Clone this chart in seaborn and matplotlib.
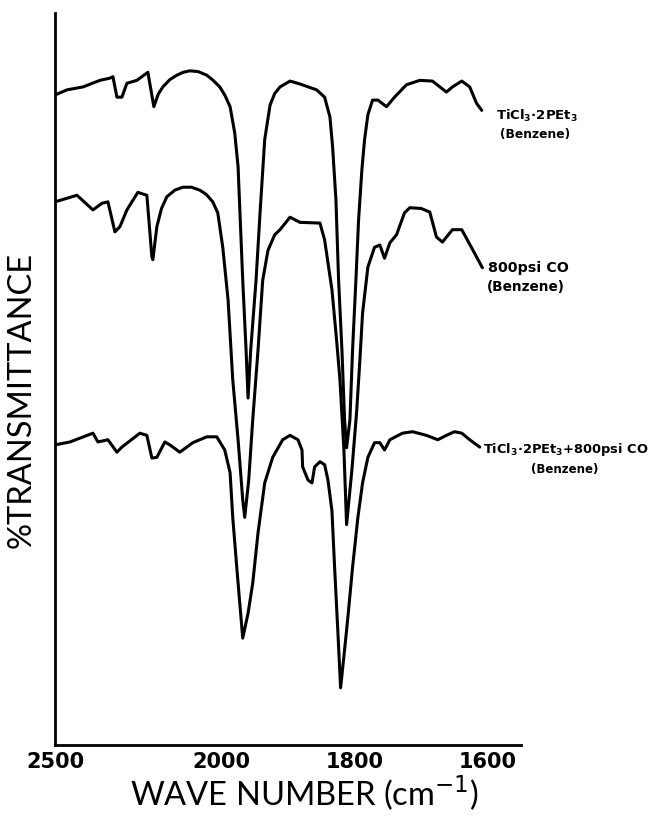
import numpy as np
import pandas as pd
import matplotlib
matplotlib.use("Agg")
import matplotlib.pyplot as plt
import seaborn as sns

# Espectros IR (numero de onda em cm-1, transmitancia relativa)
numero_onda_1 = [2500, 2464, 2416, 2365, 2335, 2326, 2314, 2299, 2284, 2254,
                 2221, 2203, 2190, 2176, 2155, 2134, 2115, 2095, 2070, 2044,
                 2025, 2005, 1995, 1987, 1980, 1975, 1968, 1963, 1960, 1956,
                 1948, 1942, 1935, 1927, 1920, 1912, 1897, 1882, 1857, 1845,
                 1837, 1833, 1828, 1824, 1819, 1815, 1812, 1807, 1803, 1798,
                 1794, 1789, 1785, 1780, 1773, 1765, 1752, 1740, 1722, 1702,
                 1683, 1662, 1653, 1639, 1627, 1617, 1609]
transm_1 = [88.8, 89.5, 89.9, 90.8, 91.1, 91.3, 88.5, 88.5, 90.4, 90.8,
            91.9, 87.2, 88.9, 89.9, 90.9, 91.5, 91.9, 92.1, 92.0, 91.5,
            90.8, 89.9, 88.8, 87.2, 83.6, 79.0, 63.5, 54.0, 47.4, 54.0,
            63.5, 72.7, 82.7, 87.4, 89.0, 89.9, 90.7, 90.3, 89.5, 88.5,
            85.8, 81.7, 74.5, 63.5, 54.0, 44.4, 40.6, 44.4, 54.0, 63.5,
            71.7, 78.6, 82.7, 86.1, 88.1, 88.1, 87.2, 88.5, 90.2, 90.8,
            90.7, 89.2, 89.9, 90.7, 89.9, 87.7, 86.7]

numero_onda_2 = [2500, 2434, 2386, 2359, 2341, 2320, 2305, 2284, 2251, 2224,
                 2209, 2206, 2194, 2180, 2164, 2140, 2116, 2090, 2065, 2045,
                 2026, 2011, 1998, 1990, 1983, 1975, 1968, 1965, 1959, 1953,
                 1945, 1938, 1930, 1920, 1912, 1897, 1882, 1852, 1845, 1834,
                 1827, 1822, 1816, 1812, 1804, 1797, 1792, 1788, 1780, 1770,
                 1762, 1755, 1747, 1737, 1725, 1717, 1700, 1687, 1677, 1668,
                 1653, 1639, 1624, 1608]
transm_2 = [74.2, 75.1, 73.1, 74.0, 74.2, 70.1, 70.8, 73.1, 75.5, 75.1,
            66.7, 66.3, 70.8, 73.3, 74.9, 75.8, 76.2, 76.2, 75.8, 75.2,
            74.2, 72.7, 68.0, 60.8, 49.9, 41.7, 33.5, 31.1, 36.2, 44.4,
            54.0, 63.5, 67.6, 69.7, 70.4, 72.1, 71.4, 71.3, 69.0, 62.2,
            55.3, 49.9, 40.3, 30.1, 37.6, 45.4, 52.6, 59.0, 65.3, 68.0,
            68.3, 66.5, 68.6, 69.7, 72.7, 73.4, 73.3, 72.8, 69.4, 68.7,
            70.4, 70.4, 67.9, 65.2]

numero_onda_3 = [2500, 2455, 2386, 2371, 2341, 2314, 2299, 2245, 2224, 2209,
                 2194, 2170, 2155, 2125, 2086, 2044, 2014, 1995, 1987, 1983,
                 1977, 1972, 1968, 1960, 1953, 1945, 1935, 1923, 1908, 1897,
                 1885, 1879, 1878, 1870, 1864, 1860, 1852, 1845, 1840, 1834,
                 1830, 1825, 1821, 1815, 1810, 1803, 1795, 1788, 1780, 1770,
                 1762, 1755, 1747, 1728, 1713, 1692, 1675, 1662, 1650, 1639,
                 1627, 1612]
transm_3 = [41.0, 41.4, 42.6, 41.4, 41.7, 40.0, 40.7, 42.6, 42.3, 39.2,
            39.3, 41.4, 41.0, 40.0, 41.3, 42.1, 42.1, 40.3, 37.2, 31.1,
            24.3, 18.9, 14.6, 18.0, 22.1, 29.0, 35.8, 39.3, 41.7, 42.3,
            41.7, 40.3, 38.0, 36.2, 35.8, 38.0, 38.7, 38.3, 36.2, 32.0,
            24.3, 15.3, 7.8, 13.0, 17.5, 24.3, 31.1, 35.8, 39.3, 41.3,
            41.3, 40.3, 41.7, 42.6, 42.8, 42.3, 41.7, 42.3, 42.8, 42.6,
            41.7, 40.7]

ticks_maiores = [2500, 2000, 1800, 1600]
ticks_menores = [2400, 2300, 2200, 2100, 1900, 1700]

sns.set_style("white")
plt.rcParams['font.family'] = ['DejaVu Sans']
plt.rcParams['text.color'] = 'black'
plt.rcParams['xtick.color'] = 'black'

fig = plt.figure(figsize=(6.56, 8.16), dpi=100)
ax = fig.add_axes([55 / 656, 71 / 816, 466 / 656, 732 / 816])

espectros = [(numero_onda_1, transm_1), (numero_onda_2, transm_2), (numero_onda_3, transm_3)]
for onda, transm in espectros:
    df = pd.DataFrame({'onda': onda, 'transm': transm})
    sns.lineplot(data=df, x='onda', y='transm', ax=ax, color='black', lw=2.2,
                 sort=False, estimator=None)


# escala do espectrometro: abaixo de 2000 cm-1 a escala fica 2x maior
def ida(x):
    x = np.asarray(x, dtype=float)
    return np.where(x >= 2000, x, 2 * x - 2000)


def volta(u):
    u = np.asarray(u, dtype=float)
    return np.where(u >= 2000, u, (u + 2000) / 2)


ax.set_xscale('function', functions=(ida, volta))
ax.set_xlim(2500, 1550)
ax.set_ylim(0, 100)

ax.set_xticks(ticks_maiores)
ax.set_xticklabels([str(t) for t in ticks_maiores], fontsize=15, fontweight='bold')
ax.set_xticks(ticks_menores, minor=True)
ax.set_yticks([])
ax.tick_params(axis='x', which='major', direction='in', length=10, width=1.6, pad=5)
ax.tick_params(axis='x', which='minor', direction='in', length=6, width=1.4)
ax.set_xlabel('')
ax.set_ylabel('')

for lado in ['top', 'right']:
    ax.spines[lado].set_visible(False)
for lado in ['left', 'bottom']:
    ax.spines[lado].set_linewidth(2)
    ax.spines[lado].set_color('black')

# rotulos das curvas
ax.text(1587, 86.0, r'TiCl$_\mathbf{3}$·2PEt$_\mathbf{3}$', fontsize=9.5, fontweight='bold',
        va='center', ha='left', clip_on=False)
ax.text(1582, 83.4, '(Benzene)', fontsize=8.8, fontweight='bold', va='center', ha='left', clip_on=False)
ax.text(1600, 65.2, '800psi CO', fontsize=10.3, fontweight='bold', va='center', ha='left', clip_on=False)
ax.text(1601, 62.6, '(Benzene)', fontsize=9.8, fontweight='bold', va='center', ha='left', clip_on=False)
ax.text(1607, 40.4, r'TiCl$_\mathbf{3}$·2PEt$_\mathbf{3}$+800psi CO', fontsize=9.4, fontweight='bold',
        va='center', ha='left', clip_on=False)
ax.text(1484, 37.7, '(Benzene)', fontsize=8.5, fontweight='bold', va='center', ha='center', clip_on=False)

fig.text(304 / 656, 1 - 793 / 816, r'WAVE NUMBER (cm$^{-1}$)', fontsize=23.5,
         family='Lato', ha='center', va='center')
fig.text(22 / 656, 1 - 400 / 816, '%TRANSMITTANCE', fontsize=23.5, family='Lato',
         rotation=90, ha='center', va='center')

plt.savefig('out.png', dpi=100)
plt.close()
